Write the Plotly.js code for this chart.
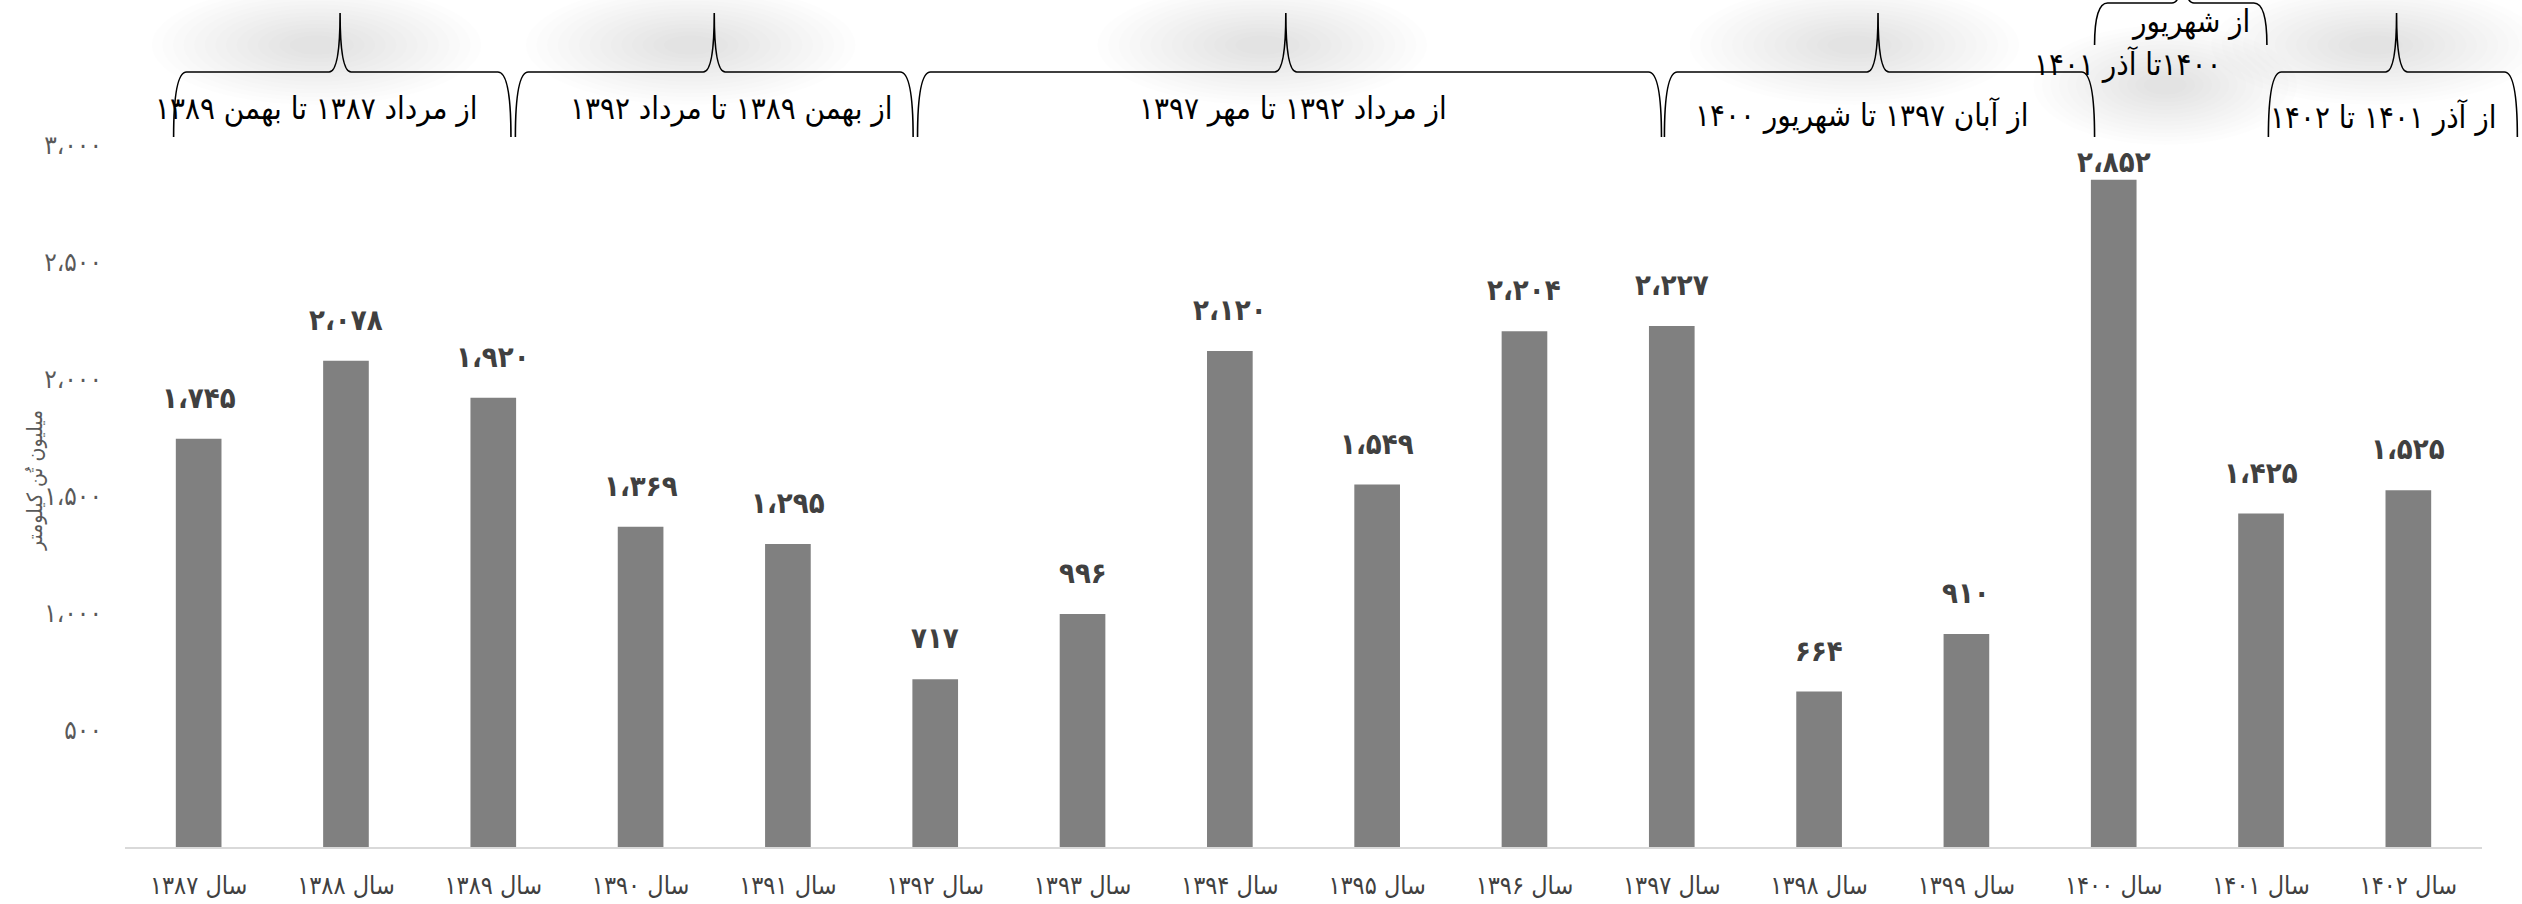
<!DOCTYPE html>
<html>
<head>
<meta charset="utf-8">
<script src="https://cdn.plot.ly/plotly-3.0.1.min.js"></script>
<style>
html,body{margin:0;padding:0;background:#ffffff;}
#chart{width:2522px;height:904px;}
</style>
</head>
<body>
<div id="chart"></div>
<script>
// ---------- data ----------
const categories = ['سال ۱۳۸۷','سال ۱۳۸۸','سال ۱۳۸۹','سال ۱۳۹۰','سال ۱۳۹۱','سال ۱۳۹۲','سال ۱۳۹۳','سال ۱۳۹۴',
                    'سال ۱۳۹۵','سال ۱۳۹۶','سال ۱۳۹۷','سال ۱۳۹۸','سال ۱۳۹۹','سال ۱۴۰۰','سال ۱۴۰۱','سال ۱۴۰۲'];
const values = [1745, 2078, 1920, 1369, 1295, 717, 996, 2120, 1549, 2204, 2227, 664, 910, 2852, 1425, 1525];
const valueLabels = ['۱،۷۴۵','۲،۰۷۸','۱،۹۲۰','۱،۳۶۹','۱،۲۹۵','۷۱۷','۹۹۶','۲،۱۲۰',
                     '۱،۵۴۹','۲،۲۰۴','۲،۲۲۷','۶۶۴','۹۱۰','۲،۸۵۲','۱،۴۲۵','۱،۵۲۵'];
const yTickValues = [500, 1000, 1500, 2000, 2500, 3000];
const yTickLabels = ['۵۰۰','۱،۰۰۰','۱،۵۰۰','۲،۰۰۰','۲،۵۰۰','۳،۰۰۰'];
const yAxisTitle = 'میلیون تُن کیلومتر';
const periodLabels = ['از مرداد ۱۳۸۷ تا بهمن ۱۳۸۹',
                      'از بهمن ۱۳۸۹ تا مرداد ۱۳۹۲',
                      'از مرداد ۱۳۹۲ تا مهر ۱۳۹۷',
                      'از آبان ۱۳۹۷ تا شهریور ۱۴۰۰',
                      'از شهریور',
                      '\u200F۱۴۰۰تا آذر ۱۴۰۱',
                      'از آذر ۱۴۰۱ تا ۱۴۰۲'];

// ---------- geometry / style ----------
const W = 2522, H = 904;
const M = {l: 125, r: 40, t: 145, b: 57};
const plotW = W - M.l - M.r, plotH = H - M.t - M.b;
const n = categories.length;
const yMax = 3000;
const ix = i => (i + 0.5) / n;              // category index -> paper x
const py = p => (H - M.b - p) / plotH;      // pixel row -> paper y
const dx = p => p / plotW;                  // pixel width -> paper width

const FONT = '"DejaVu Sans Condensed", "DejaVu Sans", sans-serif';

// brace geometry: a/b = ends, s = spike (category-index units); rows in pixels
const braces = [
  {a: -0.17, b: 2.12,  s: 0.96,  line: 72, leg: 137, tip: 13},
  {a: 2.15,  b: 4.85,  s: 3.50,  line: 72, leg: 137, tip: 13},
  {a: 4.88,  b: 9.93,  s: 7.38,  line: 72, leg: 137, tip: 13},
  {a: 9.95,  b: 12.87, s: 11.40, line: 72, leg: 137, tip: 13},
  {a: 12.87, b: 14.04, s: 13.47, line: 3,  leg: 45,  tip: -40},
  {a: 14.05, b: 15.74, s: 14.92, line: 72, leg: 137, tip: 13}
];

function bracePath(br) {
  const a = ix(br.a), b = ix(br.b), s = ix(br.s);
  const yl = py(br.line), yb = py(br.leg), yt = py(br.tip);
  const r = dx(13), rs = dx(11);
  return `M${a},${yb} Q${a},${yl} ${a + r},${yl} L${s - rs},${yl} Q${s},${yl} ${s},${yt} ` +
         `Q${s},${yl} ${s + rs},${yl} L${b - r},${yl} Q${b},${yl} ${b},${yb}`;
}

const shapes = [];
// soft shadows behind brace spikes
const shadowCenters = [
  {s: 0.80, cy: 45, w: 1.0}, {s: 3.34, cy: 45, w: 1.0}, {s: 7.22, cy: 45, w: 1.0},
  {s: 11.24, cy: 45, w: 1.0}, {s: 13.35, cy: 85, w: 0.8}, {s: 14.78, cy: 45, w: 1.0}
];
shadowCenters.forEach(sc => {
  const layers = 14;
  for (let k = 0; k < layers; k++) {
    const f = 1 - k / layers * 0.9;
    const rxp = 165 * f * sc.w, ryp = 60 * f;
    shapes.push({
      type: 'circle', xref: 'paper', yref: 'paper', layer: 'below',
      x0: ix(sc.s) - dx(rxp), x1: ix(sc.s) + dx(rxp),
      y0: py(sc.cy + ryp), y1: py(sc.cy - ryp),
      fillcolor: 'rgba(0,0,0,0.0095)', line: {width: 0}
    });
  }
});
braces.forEach(br => {
  shapes.push({
    type: 'path', xref: 'paper', yref: 'paper', layer: 'above',
    path: bracePath(br), line: {color: '#000000', width: 1.6}
  });
});

const annotations = [];
// data labels (kept inside the plot area like the original)
values.forEach((v, i) => {
  const room = plotH - plotH * v / yMax;
  annotations.push({
    x: categories[i], y: v, xref: 'x', yref: 'y',
    text: valueLabels[i], showarrow: false,
    yanchor: 'bottom', yshift: Math.min(22, room - 36),
    font: {family: FONT, size: 29, color: '#404040', weight: 'bold'}
  });
});
// period labels
const periodPos = [
  {i: 0.80, row: 109}, {i: 3.62, row: 109}, {i: 7.43, row: 109},
  {i: 11.29, row: 115}, {i: 13.52, row: 22}, {i: 13.10, row: 64}, {i: 14.83, row: 117}
];
periodLabels.forEach((t, k) => {
  annotations.push({
    xref: 'paper', yref: 'paper', x: ix(periodPos[k].i), y: py(periodPos[k].row),
    text: t, showarrow: false, xanchor: 'center', yanchor: 'middle',
    font: {family: FONT, size: 31, color: '#000000'}
  });
});
// y axis title
annotations.push({
  xref: 'paper', yref: 'paper', x: dx(35 - M.l), y: py(481),
  text: yAxisTitle, showarrow: false, textangle: -90,
  xanchor: 'center', yanchor: 'middle',
  font: {family: FONT, size: 21, color: '#595959'}
});

const trace = {
  type: 'bar', x: categories, y: values,
  marker: {color: '#808080', line: {width: 0}},
  hoverinfo: 'skip'
};

const layout = {
  width: W, height: H,
  margin: M,
  paper_bgcolor: '#ffffff', plot_bgcolor: '#ffffff',
  showlegend: false,
  bargap: 0.69,
  xaxis: {
    type: 'category', showgrid: false, zeroline: false,
    showline: true, linecolor: '#d9d9d9', linewidth: 2,
    ticks: '', ticklabelstandoff: 15,
    tickfont: {family: FONT, size: 25, color: '#404040'},
    fixedrange: true
  },
  yaxis: {
    range: [0, yMax], showgrid: false, zeroline: false, showline: false,
    tickmode: 'array', tickvals: yTickValues, ticktext: yTickLabels,
    ticks: '', ticklabelstandoff: 22,
    tickfont: {family: FONT, size: 26, color: '#595959'},
    fixedrange: true
  },
  shapes: shapes,
  annotations: annotations
};

Plotly.newPlot('chart', [trace], layout, {displayModeBar: false, staticPlot: true});
</script>
</body>
</html>
